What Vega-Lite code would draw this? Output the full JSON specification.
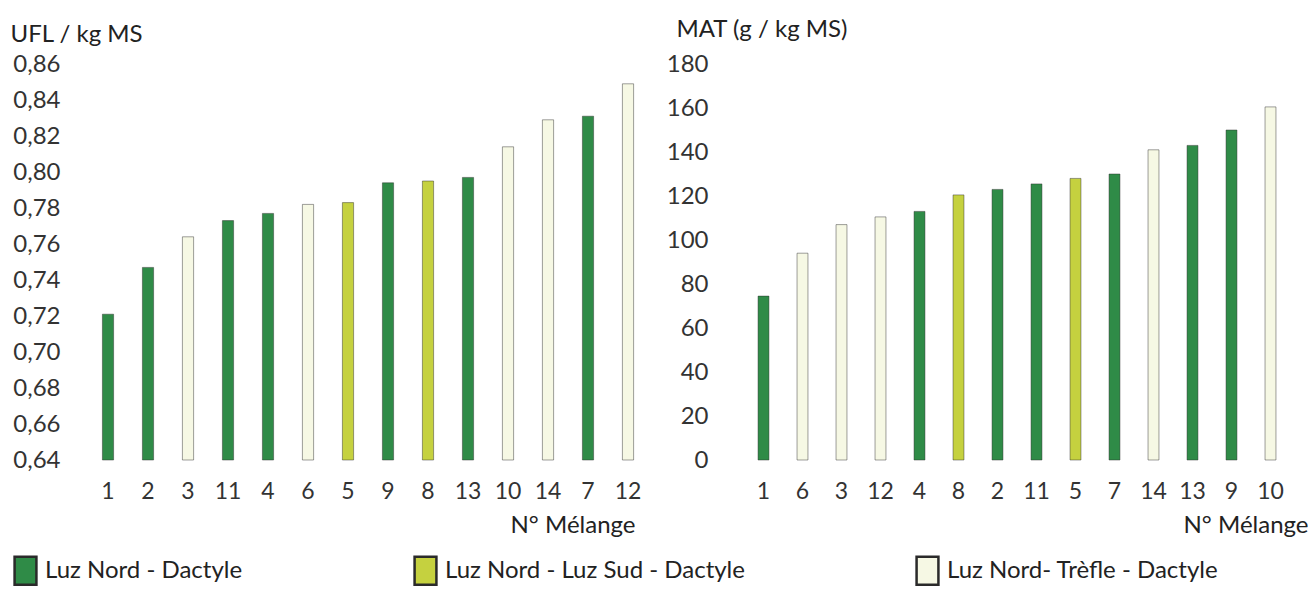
{
  "$schema": "https://vega.github.io/schema/vega-lite/v6.json",
  "background": "white",
  "padding": {"left": 10, "top": 17, "right": 2, "bottom": 0},
  "config": {
    "view": {"stroke": null},
    "font": "Lato",
    "axis": {"labelFont": "Lato", "titleFont": "Lato", "labelFontSize": 24, "titleFontSize": 24, "labelColor": "#333", "titleColor": "#222", "titleFontWeight": "normal", "grid": false, "domain": false, "ticks": false, "tickSize": 0},
    "legend": {"labelFont": "Lato", "labelFontSize": 24, "labelColor": "#222", "labelLimit": 600}
  },
  "datasets": {
    "ufl": [
      {"melange": "1", "type": "Luz Nord - Dactyle", "value": 0.721},
      {"melange": "2", "type": "Luz Nord - Dactyle", "value": 0.747},
      {"melange": "3", "type": "Luz Nord- Trèfle - Dactyle", "value": 0.764},
      {"melange": "11", "type": "Luz Nord - Dactyle", "value": 0.773},
      {"melange": "4", "type": "Luz Nord - Dactyle", "value": 0.777},
      {"melange": "6", "type": "Luz Nord- Trèfle - Dactyle", "value": 0.782},
      {"melange": "5", "type": "Luz Nord - Luz Sud - Dactyle", "value": 0.783},
      {"melange": "9", "type": "Luz Nord - Dactyle", "value": 0.794},
      {"melange": "8", "type": "Luz Nord - Luz Sud - Dactyle", "value": 0.795},
      {"melange": "13", "type": "Luz Nord - Dactyle", "value": 0.797},
      {"melange": "10", "type": "Luz Nord- Trèfle - Dactyle", "value": 0.814},
      {"melange": "14", "type": "Luz Nord- Trèfle - Dactyle", "value": 0.829},
      {"melange": "7", "type": "Luz Nord - Dactyle", "value": 0.831},
      {"melange": "12", "type": "Luz Nord- Trèfle - Dactyle", "value": 0.849}
    ],
    "mat": [
      {"melange": "1", "type": "Luz Nord - Dactyle", "value": 74.5},
      {"melange": "6", "type": "Luz Nord- Trèfle - Dactyle", "value": 94},
      {"melange": "3", "type": "Luz Nord- Trèfle - Dactyle", "value": 107},
      {"melange": "12", "type": "Luz Nord- Trèfle - Dactyle", "value": 110.5},
      {"melange": "4", "type": "Luz Nord - Dactyle", "value": 113},
      {"melange": "8", "type": "Luz Nord - Luz Sud - Dactyle", "value": 120.5},
      {"melange": "2", "type": "Luz Nord - Dactyle", "value": 123},
      {"melange": "11", "type": "Luz Nord - Dactyle", "value": 125.5},
      {"melange": "5", "type": "Luz Nord - Luz Sud - Dactyle", "value": 128},
      {"melange": "7", "type": "Luz Nord - Dactyle", "value": 130},
      {"melange": "14", "type": "Luz Nord- Trèfle - Dactyle", "value": 141},
      {"melange": "13", "type": "Luz Nord - Dactyle", "value": 143},
      {"melange": "9", "type": "Luz Nord - Dactyle", "value": 150},
      {"melange": "10", "type": "Luz Nord- Trèfle - Dactyle", "value": 160.5}
    ]
  },
  "spacing": 18,
  "resolve": {"scale": {"color": "shared"}, "legend": {"color": "shared"}},
  "hconcat": [
    {
      "data": {"name": "ufl"},
      "width": 560,
      "height": 396,
      "mark": {"type": "bar", "width": {"band": 0.28}, "strokeWidth": 1, "stroke": "#2a2a2a", "strokeOpacity": 0.45},
      "encoding": {
        "x": {"field": "melange", "type": "nominal", "sort": null,
          "scale": {"paddingInner": 0, "paddingOuter": 0},
          "axis": {"labelAngle": 0, "labelPadding": 20, "labelFontSize": 23, "title": "N° Mélange", "titleAlign": "right", "titleAnchor": "end", "titleX": 547, "titleY": 72, "titleBaseline": "alphabetic"}},
        "y": {"field": "value", "type": "quantitative",
          "scale": {"domain": [0.64, 0.86], "zero": false, "nice": false},
          "axis": {"values": [0.64, 0.66, 0.68, 0.70, 0.72, 0.74, 0.76, 0.78, 0.80, 0.82, 0.84, 0.86], "labelExpr": "replace(format(datum.value, '.2f'), '.', ',')", "labelPadding": 28, "title": "UFL / kg MS", "titleAngle": 0, "titleAlign": "left", "titleBaseline": "alphabetic", "titleX": -78, "titleY": -23}},
        "y2": {"datum": 0.64},
        "color": {"field": "type", "type": "nominal",
          "scale": {"domain": ["Luz Nord - Dactyle", "Luz Nord - Luz Sud - Dactyle", "Luz Nord- Trèfle - Dactyle"], "range": ["#2f8b47", "#c5d13f", "#f6f8e4"]},
          "legend": {"title": null, "orient": "none", "direction": "horizontal", "legendX": -78, "legendY": 491, "columnPadding": 166, "labelOffset": 4, "symbolType": "M-0.78,-1H0.78V1H-0.78Z", "symbolSize": 784, "symbolStrokeColor": "#1e1e1e", "symbolStrokeWidth": 2.5, "symbolOpacity": 1}}
      }
    },
    {
      "data": {"name": "mat"},
      "width": 546,
      "height": 396,
      "mark": {"type": "bar", "width": {"band": 0.28}, "strokeWidth": 1, "stroke": "#2a2a2a", "strokeOpacity": 0.45},
      "encoding": {
        "x": {"field": "melange", "type": "nominal", "sort": null,
          "scale": {"paddingInner": 0, "paddingOuter": 0},
          "axis": {"labelAngle": 0, "labelPadding": 20, "labelFontSize": 23, "title": "N° Mélange", "titleAlign": "right", "titleAnchor": "end", "titleX": 564, "titleY": 72, "titleBaseline": "alphabetic"}},
        "y": {"field": "value", "type": "quantitative",
          "scale": {"domain": [0, 180], "nice": false},
          "axis": {"values": [0, 20, 40, 60, 80, 100, 120, 140, 160, 180], "labelPadding": 36, "title": "MAT (g / kg MS)", "titleAngle": 0, "titleAlign": "left", "titleBaseline": "alphabetic", "titleX": -68, "titleY": -28}},
        "color": {"field": "type", "type": "nominal"}
      }
    }
  ]
}
